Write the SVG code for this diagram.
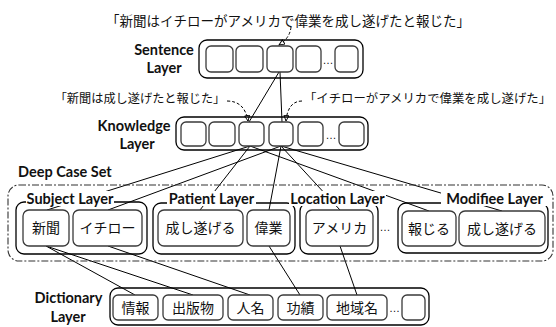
<svg xmlns="http://www.w3.org/2000/svg" width="556" height="327" viewBox="0 0 556 327">
<style>
.outer{fill:none;stroke:#000;stroke-width:1.3}
.inner{fill:#fff;stroke:#3a3a3a;stroke-width:1.3}
.layer{fill:none;stroke:#000;stroke-width:1.3}
.dc{fill:none;stroke:#333;stroke-width:1.1;stroke-dasharray:7 2 2 2}
.lbl{font-family:Lato,"Open Sans",sans-serif;font-weight:bold;font-size:14.5px;fill:#111}
.jp{font-family:"Noto Sans CJK JP",sans-serif;fill:#111}
.box{font-size:14px;text-anchor:middle}
.dots{font-family:"Liberation Sans",sans-serif;font-size:11px;fill:#111;text-anchor:middle}
.ln{stroke:#000;stroke-width:1;fill:none}
.dash{stroke:#000;stroke-width:1;fill:none;stroke-dasharray:3 2}
.bg{fill:#fff}
</style>
<defs>
<marker id="ah" markerWidth="7" markerHeight="7" refX="6" refY="3" orient="auto" markerUnits="userSpaceOnUse">
<path d="M0.5,0.5 L6,3 L0.5,5.5 z" fill="#fff" stroke="#000" stroke-width="0.9"/>
</marker>
</defs>
<rect width="556" height="327" fill="#fff"/>

<g id="connectors">
<path class="ln" d="M279,72 L249,122"/>
<path class="ln" d="M280,72 L282,122"/>
<path class="ln" d="M250,146 L47,210"/>
<path class="ln" d="M250,146 L200,210"/>
<path class="ln" d="M250,146 L429,211"/>
<path class="ln" d="M281,146 L108,210"/>
<path class="ln" d="M281,146 L269,210"/>
<path class="ln" d="M281,146 L340,210"/>
<path class="ln" d="M281,146 L502,211"/>
<path class="ln" d="M46,246 L135,295"/>
<path class="ln" d="M46,246 L193,295"/>
<path class="ln" d="M108,246 L250,295"/>
<path class="ln" d="M269,246 L300,295"/>
<path class="ln" d="M340,246 L357,295"/>
<path class="dash" d="M291,27 Q290,38 279,45" marker-end="url(#ah)"/>
<path class="dash" d="M227,101 C240,101 246,109 248,121" marker-end="url(#ah)"/>
<path class="dash" d="M302,101 C292,101 287,109 286,121" marker-end="url(#ah)"/>
</g>

<g id="sentence-text">
<text class="jp" x="288" y="25.5" font-size="13.5" text-anchor="middle">「新聞はイチローがアメリカで偉業を成し遂げたと報じた」</text>
</g>

<g id="sentence-layer">
<text class="lbl" x="164" y="55" text-anchor="middle">Sentence</text>
<text class="lbl" x="164" y="73" text-anchor="middle">Layer</text>
<rect class="outer" x="199" y="40" width="164" height="38" rx="8"/>
<rect class="inner" x="206" y="46" width="27" height="26" rx="5"/>
<rect class="inner" x="236" y="46" width="27" height="26" rx="5"/>
<rect class="inner" x="267" y="46" width="26" height="26" rx="5"/>
<rect class="inner" x="296" y="46" width="25" height="26" rx="5"/>
<text class="dots" x="328" y="64">…</text>
<rect class="inner" x="335" y="46" width="23" height="26" rx="5"/>
</g>

<g id="knowledge-labels">
<text class="jp" x="140" y="102.5" font-size="12.2" text-anchor="middle">「新聞は成し遂げたと報じた」</text>
<text class="jp" x="427.5" y="102.5" font-size="12.4" text-anchor="middle">「イチローがアメリカで偉業を成し遂げた」</text>
</g>

<g id="knowledge-layer">
<text class="lbl" x="134" y="131" text-anchor="middle">Knowledge</text>
<text class="lbl" x="137" y="149" text-anchor="middle">Layer</text>
<rect class="outer" x="176" y="117" width="192" height="33" rx="8"/>
<rect class="inner" x="181" y="122" width="25" height="24" rx="5"/>
<rect class="inner" x="209" y="122" width="26" height="24" rx="5"/>
<rect class="inner" x="239" y="122" width="25" height="24" rx="5"/>
<rect class="inner" x="269" y="122" width="24" height="24" rx="5"/>
<rect class="inner" x="298" y="122" width="25" height="24" rx="5"/>
<text class="dots" x="331" y="139">…</text>
<rect class="inner" x="339" y="122" width="25" height="24" rx="5"/>
</g>

<g id="deep-case-set">
<text class="lbl" x="18" y="177">Deep Case Set</text>
<rect class="dc" x="8" y="185" width="545" height="76" rx="11"/>
<text class="dots" x="385" y="231">…</text>
</g>

<g id="subject-layer">
<rect class="layer" x="16" y="202" width="131" height="52" rx="8"/>
<rect class="bg" x="26" y="191" width="88" height="15"/>
<text class="lbl" x="70" y="204" text-anchor="middle">Subject Layer</text>
<rect class="inner" x="23" y="210" width="46" height="36" rx="6"/>
<text class="jp box" x="46" y="233.3">新聞</text>
<rect class="inner" x="73" y="210" width="69" height="36" rx="6"/>
<text class="jp box" x="107.5" y="233.3">イチロー</text>
</g>

<g id="patient-layer">
<rect class="layer" x="153" y="203" width="142" height="51" rx="8"/>
<rect class="bg" x="167" y="191" width="89" height="15"/>
<text class="lbl" x="211.5" y="204" text-anchor="middle">Patient Layer</text>
<rect class="inner" x="158" y="210" width="85" height="36" rx="6"/>
<text class="jp box" x="200.5" y="233.3">成し遂げる</text>
<rect class="inner" x="247" y="210" width="43" height="36" rx="6"/>
<text class="jp box" x="268.5" y="233.3">偉業</text>
</g>

<g id="location-layer">
<rect class="layer" x="300" y="203" width="78" height="51" rx="8"/>
<rect class="bg" x="289" y="191" width="97" height="15"/>
<text class="lbl" x="337.5" y="204" text-anchor="middle">Location Layer</text>
<rect class="inner" x="306" y="210" width="67" height="36" rx="6"/>
<text class="jp box" x="339.5" y="233.3">アメリカ</text>
</g>

<g id="modifiee-layer">
<rect class="layer" x="398" y="203" width="150" height="50" rx="8"/>
<rect class="bg" x="441" y="191" width="106" height="15"/>
<text class="lbl" x="494.5" y="204" text-anchor="middle">Modifiee Layer</text>
<rect class="inner" x="402" y="211" width="54" height="35" rx="6"/>
<text class="jp box" x="429" y="233.8">報じる</text>
<rect class="inner" x="459" y="211" width="86" height="35" rx="6"/>
<text class="jp box" x="502" y="233.8">成し遂げる</text>
</g>

<g id="dictionary-layer">
<text class="lbl" x="68.5" y="303" text-anchor="middle">Dictionary</text>
<text class="lbl" x="68" y="322" text-anchor="middle">Layer</text>
<rect class="outer" x="110" y="288" width="319" height="37" rx="8"/>
<rect class="inner" x="113" y="295" width="45" height="25" rx="5"/>
<text class="jp box" x="135.5" y="312.8">情報</text>
<rect class="inner" x="163" y="295" width="60" height="25" rx="5"/>
<text class="jp box" x="193" y="312.8">出版物</text>
<rect class="inner" x="228" y="295" width="45" height="25" rx="5"/>
<text class="jp box" x="250.5" y="312.8">人名</text>
<rect class="inner" x="278" y="295" width="45" height="25" rx="5"/>
<text class="jp box" x="300.5" y="312.8">功績</text>
<rect class="inner" x="327" y="295" width="60" height="25" rx="5"/>
<text class="jp box" x="357" y="312.8">地域名</text>
<text class="dots" x="394.5" y="312">…</text>
<rect class="inner" x="402" y="295" width="23" height="25" rx="5"/>
</g>
</svg>
